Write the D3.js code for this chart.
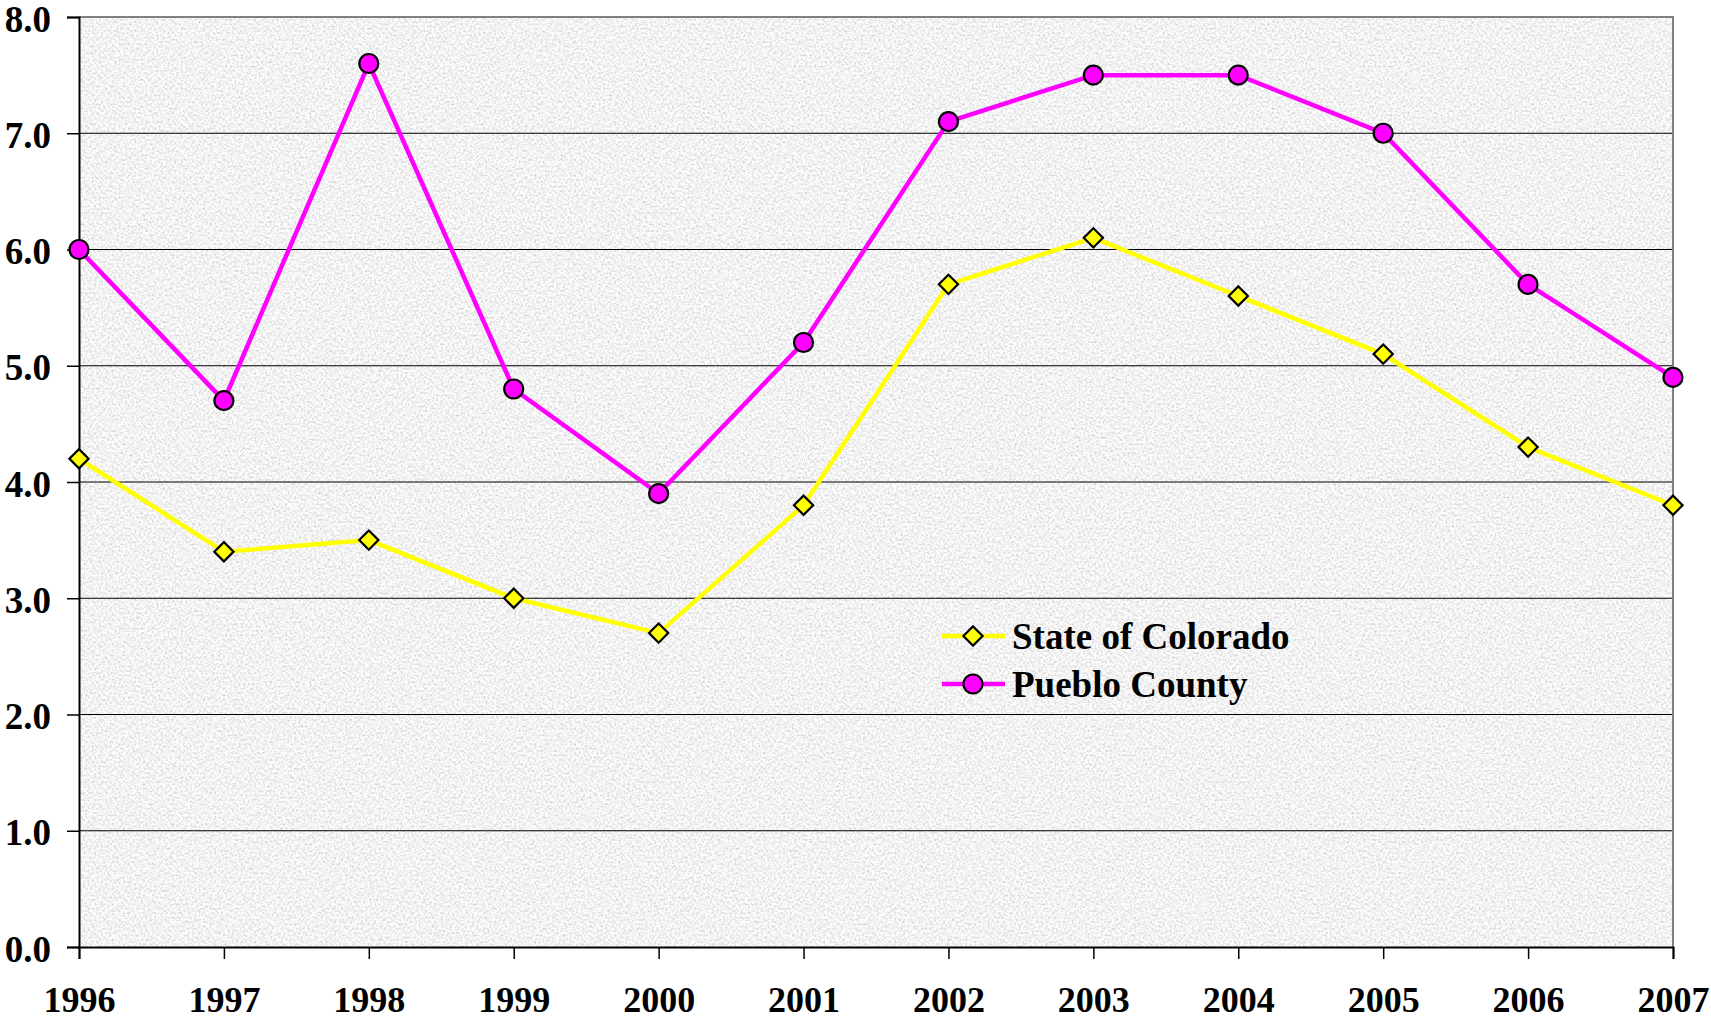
<!DOCTYPE html>
<html>
<head>
<meta charset="utf-8">
<script src="https://cdn.jsdelivr.net/npm/d3@7"></script>
<style>
  body { margin: 0; background: #ffffff; }
  svg { display: block; font-family: "Liberation Serif", "Times New Roman", serif; }
</style>
</head>
<body>
<figure id="line-chart" style="margin:0"></figure>
<script>
// Chart data
const years = [1996, 1997, 1998, 1999, 2000, 2001, 2002, 2003, 2004, 2005, 2006, 2007];
const coloradoValues = [4.2, 3.4, 3.5, 3.0, 2.7, 3.8, 5.7, 6.1, 5.6, 5.1, 4.3, 3.8];
const puebloValues = [6.0, 4.7, 7.6, 4.8, 3.9, 5.2, 7.1, 7.5, 7.5, 7.0, 5.7, 4.9];
const yTicks = [0, 1, 2, 3, 4, 5, 6, 7, 8];
const seriesNames = ["State of Colorado", "Pueblo County"];

// Dimensions
const width = 1711, height = 1020;
const margin = {top: 17, right: 38, bottom: 73, left: 79};
const plotW = width - margin.left - margin.right;
const plotH = height - margin.top - margin.bottom;

const svg = d3.select("figure#line-chart")
  .append("svg")
  .attr("width", width)
  .attr("height", height);

// Granite-like background texture
const defs = svg.append("defs");
const filter = defs.append("filter").attr("id", "granite")
  .attr("x", 0).attr("y", 0).attr("width", "100%").attr("height", "100%");
filter.append("feTurbulence")
  .attr("type", "fractalNoise")
  .attr("baseFrequency", 0.45)
  .attr("numOctaves", 3)
  .attr("seed", 7)
  .attr("result", "noise");
filter.append("feColorMatrix")
  .attr("in", "noise")
  .attr("type", "matrix")
  .attr("values", "0.7 0 0 0 0.54  0.7 0 0 0 0.54  0.7 0 0 0 0.54  0 0 0 0 1");

const g = svg.append("g")
  .attr("transform", `translate(${margin.left},${margin.top})`);

const x = d3.scaleLinear()
  .domain([years[0], years[years.length - 1]])
  .range([0, plotW]);
const y = d3.scaleLinear()
  .domain([0, 8])
  .range([plotH, 0]);

// Plot background
g.append("rect")
  .attr("width", plotW)
  .attr("height", plotH)
  .attr("fill", "#e4e4e4")
  .attr("filter", "url(#granite)");

// Gridlines
g.selectAll(".grid")
  .data(yTicks.slice(1, -1))
  .enter()
  .append("line")
    .attr("x1", 0)
    .attr("x2", plotW)
    .attr("y1", d => y(d))
    .attr("y2", d => y(d))
    .attr("stroke", "#000")
    .attr("stroke-width", 1);

// Top and right border (grey)
g.append("path")
  .attr("d", `M0,${y(8)}H${plotW}V${plotH}`)
  .attr("fill", "none")
  .attr("stroke", "#808080")
  .attr("stroke-width", 2);

// Axes
const yAxis = g.append("g")
  .call(d3.axisLeft(y).tickValues(yTicks).tickFormat(d3.format(".1f")).tickSize(12).tickPadding(16));
const xAxis = g.append("g")
  .attr("transform", `translate(0,${plotH})`)
  .call(d3.axisBottom(x).tickValues(years).tickFormat(d3.format("d")).tickSize(12).tickPadding(27));

[yAxis, xAxis].forEach(ax => {
  ax.select(".domain").attr("stroke", "#000").attr("stroke-width", 2);
  ax.selectAll(".tick line").attr("stroke", "#000").attr("stroke-width", 1.5);
  ax.selectAll(".tick text")
    .attr("fill", "#000")
    .style("font-family", '"Liberation Serif", "Times New Roman", serif')
    .style("font-weight", "bold")
    .style("font-size", "37px");
});
yAxis.selectAll(".tick text").attr("dy", "0.38em");
xAxis.selectAll(".tick text").style("font-size", "36px");

// Lines
const line = d3.line()
  .x((d, i) => x(years[i]))
  .y(d => y(d));

g.append("path")
  .datum(coloradoValues)
  .attr("d", line)
  .attr("fill", "none")
  .attr("stroke", "#ffff00")
  .attr("stroke-width", 4.5);

g.append("path")
  .datum(puebloValues)
  .attr("d", line)
  .attr("fill", "none")
  .attr("stroke", "#ff00ff")
  .attr("stroke-width", 4.5);

// Markers
const diamond = d3.symbol().type(d3.symbolSquare).size(185);

g.selectAll(".colorado")
  .data(coloradoValues)
  .enter()
  .append("path")
    .attr("d", diamond)
    .attr("transform", (d, i) => `translate(${x(years[i])},${y(d)}) rotate(45)`)
    .attr("fill", "#ffff00")
    .attr("stroke", "#000")
    .attr("stroke-width", 2.2);

g.selectAll(".pueblo")
  .data(puebloValues)
  .enter()
  .append("circle")
    .attr("cx", (d, i) => x(years[i]))
    .attr("cy", d => y(d))
    .attr("r", 9.5)
    .attr("fill", "#ff00ff")
    .attr("stroke", "#000")
    .attr("stroke-width", 2.2);

// Legend
const legend = svg.append("g").attr("transform", "translate(942,636)");
const legendColours = ["#ffff00", "#ff00ff"];
seriesNames.forEach((name, i) => {
  const row = legend.append("g").attr("transform", `translate(0,${i * 48})`);
  row.append("line")
    .attr("x1", 0).attr("x2", 63)
    .attr("stroke", legendColours[i])
    .attr("stroke-width", 4.5);
  if (i === 0) {
    row.append("path")
      .attr("d", diamond)
      .attr("transform", "translate(31,0) rotate(45)")
      .attr("fill", legendColours[i])
      .attr("stroke", "#000")
      .attr("stroke-width", 2.2);
  } else {
    row.append("circle")
      .attr("cx", 31).attr("r", 9.5)
      .attr("fill", legendColours[i])
      .attr("stroke", "#000")
      .attr("stroke-width", 2.2);
  }
  row.append("text")
    .attr("x", 70)
    .attr("dy", "0.34em")
    .style("font-weight", "bold")
    .style("font-size", "37px")
    .text(name);
});
</script>
</body>
</html>
